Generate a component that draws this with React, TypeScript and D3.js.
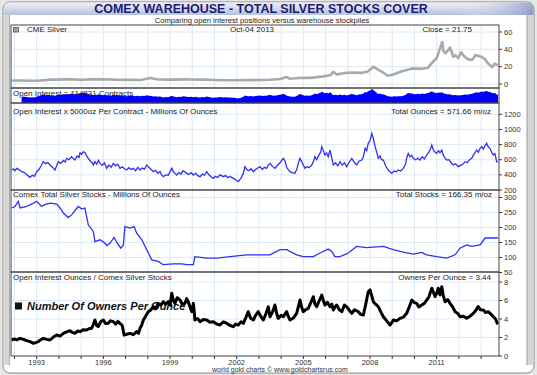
import React from "react";
import * as d3 from "d3";

// ---------- DATA (decimal years) ----------
const priceDates = [1991.87, 1992.3, 1992.7, 1993.0, 1993.4, 1993.6, 1993.9, 1994.2, 1994.6, 1995.0, 1995.4, 1995.7, 1996.1, 1996.5, 1996.9, 1997.3, 1997.7, 1997.95, 1998.1, 1998.4, 1998.8, 1999.2, 1999.6, 2000.0, 2000.5, 2001.0, 2001.5, 2001.9, 2002.4, 2002.9, 2003.5, 2003.95, 2004.25, 2004.4, 2004.9, 2005.3, 2005.9, 2006.2, 2006.35, 2006.5, 2006.8, 2007.2, 2007.6, 2007.9, 2008.15, 2008.3, 2008.6, 2008.8, 2009.05, 2009.4, 2009.9, 2010.3, 2010.6, 2010.85, 2011.0, 2011.1, 2011.25, 2011.3, 2011.4, 2011.5, 2011.6, 2011.75, 2011.85, 2011.97, 2012.1, 2012.2, 2012.35, 2012.5, 2012.6, 2012.75, 2012.85, 2013.0, 2013.1, 2013.2, 2013.3, 2013.4, 2013.5, 2013.6, 2013.68, 2013.76];
const priceValues = [4.0, 4.0, 3.8, 3.7, 4.5, 5.2, 5.0, 5.3, 5.4, 4.8, 5.4, 5.3, 5.5, 5.0, 4.8, 4.8, 4.6, 6.0, 7.0, 5.5, 5.0, 5.1, 5.3, 5.2, 5.0, 4.6, 4.4, 4.4, 4.7, 4.5, 4.9, 5.8, 8.0, 6.0, 7.2, 7.1, 8.8, 10.0, 14.0, 11.0, 12.5, 13.3, 12.8, 14.5, 20.0, 17.5, 13.0, 9.5, 11.0, 14.5, 18.0, 17.5, 18.5, 26.0, 30.0, 37.0, 48.5, 38.0, 35.5, 38.5, 42.0, 31.5, 33.0, 30.0, 36.5, 33.0, 29.5, 28.0, 28.0, 33.5, 32.5, 31.5, 30.0, 28.0, 24.0, 22.0, 19.5, 23.5, 22.5, 21.75];

const ouncesDates = [1991.87, 1991.95, 1992.02, 1992.1, 1992.2, 1992.32, 1992.45, 1992.55, 1992.7, 1992.8, 1992.9, 1993.0, 1993.1, 1993.2, 1993.3, 1993.4, 1993.5, 1993.6, 1993.7, 1993.82, 1993.9, 1993.97, 1994.08, 1994.2, 1994.28, 1994.35, 1994.45, 1994.57, 1994.65, 1994.72, 1994.82, 1994.9, 1994.95, 1995.02, 1995.1, 1995.18, 1995.25, 1995.32, 1995.42, 1995.5, 1995.55, 1995.62, 1995.7, 1995.78, 1995.85, 1995.95, 1996.05, 1996.15, 1996.25, 1996.35, 1996.45, 1996.55, 1996.65, 1996.75, 1996.85, 1996.95, 1997.05, 1997.15, 1997.25, 1997.35, 1997.45, 1997.55, 1997.65, 1997.75, 1997.85, 1997.95, 1998.05, 1998.15, 1998.25, 1998.35, 1998.45, 1998.55, 1998.62, 1998.7, 1998.8, 1998.92, 1999.0, 1999.08, 1999.15, 1999.22, 1999.3, 1999.4, 1999.5, 1999.58, 1999.67, 1999.75, 1999.85, 1999.95, 2000.05, 2000.15, 2000.25, 2000.35, 2000.45, 2000.55, 2000.65, 2000.75, 2000.85, 2000.95, 2001.05, 2001.15, 2001.25, 2001.4, 2001.5, 2001.6, 2001.7, 2001.85, 2001.95, 2002.07, 2002.2, 2002.3, 2002.37, 2002.45, 2002.55, 2002.65, 2002.75, 2002.85, 2002.95, 2003.05, 2003.15, 2003.25, 2003.35, 2003.42, 2003.5, 2003.6, 2003.72, 2003.82, 2003.95, 2004.05, 2004.1, 2004.18, 2004.25, 2004.32, 2004.4, 2004.5, 2004.62, 2004.7, 2004.78, 2004.85, 2004.95, 2005.07, 2005.15, 2005.25, 2005.38, 2005.45, 2005.52, 2005.6, 2005.7, 2005.78, 2005.83, 2005.9, 2005.97, 2006.05, 2006.12, 2006.2, 2006.28, 2006.35, 2006.45, 2006.55, 2006.65, 2006.75, 2006.85, 2006.95, 2007.05, 2007.18, 2007.28, 2007.4, 2007.5, 2007.63, 2007.7, 2007.78, 2007.85, 2007.92, 2008.0, 2008.08, 2008.15, 2008.23, 2008.3, 2008.37, 2008.45, 2008.52, 2008.6, 2008.7, 2008.82, 2008.9, 2008.98, 2009.08, 2009.18, 2009.27, 2009.38, 2009.5, 2009.6, 2009.65, 2009.72, 2009.8, 2009.88, 2009.95, 2010.05, 2010.15, 2010.25, 2010.35, 2010.45, 2010.55, 2010.65, 2010.72, 2010.78, 2010.85, 2010.92, 2011.0, 2011.08, 2011.15, 2011.23, 2011.3, 2011.38, 2011.45, 2011.55, 2011.65, 2011.75, 2011.85, 2011.97, 2012.07, 2012.18, 2012.28, 2012.38, 2012.48, 2012.58, 2012.65, 2012.72, 2012.8, 2012.88, 2012.95, 2013.03, 2013.1, 2013.18, 2013.25, 2013.32, 2013.4, 2013.47, 2013.55, 2013.62, 2013.7, 2013.76];
const ouncesValues = [464, 478, 455, 486, 470, 442, 430, 402, 368, 395, 380, 442, 470, 520, 574, 548, 562, 530, 505, 464, 520, 574, 552, 590, 570, 618, 600, 640, 615, 596, 650, 630, 692, 670, 706, 690, 650, 618, 580, 560, 530, 575, 540, 590, 552, 525, 560, 486, 530, 500, 552, 520, 540, 486, 505, 480, 464, 495, 470, 486, 455, 500, 464, 490, 475, 530, 500, 470, 442, 460, 420, 445, 400, 376, 400, 395, 440, 486, 440, 420, 398, 430, 410, 455, 442, 420, 405, 430, 398, 420, 390, 376, 410, 395, 442, 400, 375, 354, 380, 365, 400, 376, 390, 365, 380, 354, 335, 310, 360, 420, 508, 470, 455, 480, 442, 470, 490, 508, 470, 500, 486, 530, 552, 515, 486, 520, 560, 600, 618, 580, 500, 470, 442, 430, 420, 470, 560, 618, 560, 486, 510, 495, 530, 575, 640, 600, 660, 700, 772, 720, 662, 690, 640, 728, 620, 530, 560, 520, 574, 530, 560, 508, 560, 618, 570, 530, 580, 596, 640, 750, 720, 816, 850, 948, 880, 772, 700, 618, 650, 600, 596, 520, 464, 440, 420, 450, 440, 464, 450, 486, 540, 620, 684, 640, 660, 618, 600, 620, 596, 640, 610, 662, 700, 740, 794, 730, 700, 684, 720, 690, 728, 660, 620, 596, 600, 560, 530, 545, 508, 525, 540, 574, 560, 600, 618, 660, 690, 728, 700, 750, 772, 740, 790, 816, 770, 750, 700, 662, 680, 574, 572];

const contractsStart = 1992.3; // open-interest contracts panel begins slightly later

const stocksDates = [1991.87, 1992.02, 1992.17, 1992.25, 1992.55, 1992.85, 1993.0, 1993.22, 1993.37, 1993.6, 1993.9, 1994.05, 1994.2, 1994.42, 1994.57, 1994.87, 1995.02, 1995.17, 1995.32, 1995.55, 1995.62, 1995.85, 1996.07, 1996.15, 1996.3, 1996.48, 1996.6, 1996.78, 1996.9, 1996.97, 1997.2, 1997.38, 1997.5, 1997.73, 1997.95, 1998.18, 1998.47, 1998.7, 1999.15, 1999.53, 1999.75, 2000.05, 2000.12, 2000.65, 2001.1, 2001.7, 2002.45, 2003.35, 2003.5, 2003.95, 2004.25, 2004.7, 2005.0, 2005.45, 2005.75, 2006.12, 2006.28, 2006.42, 2006.65, 2007.02, 2007.4, 2007.85, 2008.6, 2009.05, 2009.5, 2009.95, 2010.33, 2010.55, 2011.0, 2011.45, 2011.83, 2012.05, 2012.35, 2012.58, 2012.95, 2013.18, 2013.7, 2013.76];
const stocksValues = [265, 270, 287, 265, 270, 281, 287, 270, 276, 281, 278, 265, 248, 233, 242, 270, 262, 265, 209, 187, 153, 159, 148, 140, 148, 167, 151, 131, 142, 203, 198, 203, 181, 159, 126, 92, 87, 76, 79, 79, 76, 76, 103, 98, 98, 103, 109, 109, 109, 126, 126, 109, 103, 103, 115, 128, 120, 103, 103, 115, 137, 133, 137, 126, 118, 111, 117, 109, 103, 98, 109, 131, 142, 137, 142, 165, 165, 166];

const ownersDates = [1991.87, 1992.0, 1992.1, 1992.25, 1992.4, 1992.55, 1992.7, 1992.85, 1992.95, 1993.07, 1993.18, 1993.3, 1993.45, 1993.6, 1993.75, 1993.9, 1994.05, 1994.2, 1994.35, 1994.5, 1994.6, 1994.72, 1994.85, 1994.95, 1995.1, 1995.25, 1995.35, 1995.47, 1995.55, 1995.62, 1995.7, 1995.77, 1995.88, 1996.0, 1996.1, 1996.22, 1996.32, 1996.45, 1996.55, 1996.65, 1996.75, 1996.85, 1996.93, 1997.05, 1997.2, 1997.35, 1997.5, 1997.58, 1997.65, 1997.72, 1997.8, 1997.9, 1998.02, 1998.12, 1998.25, 1998.35, 1998.47, 1998.58, 1998.7, 1998.8, 1998.92, 1999.0, 1999.08, 1999.15, 1999.22, 1999.32, 1999.45, 1999.55, 1999.67, 1999.75, 1999.82, 1999.9, 1999.98, 2000.05, 2000.1, 2000.12, 2000.25, 2000.35, 2000.5, 2000.65, 2000.8, 2000.95, 2001.1, 2001.25, 2001.4, 2001.55, 2001.7, 2001.85, 2001.95, 2002.07, 2002.2, 2002.3, 2002.42, 2002.52, 2002.62, 2002.75, 2002.85, 2002.97, 2003.08, 2003.2, 2003.32, 2003.42, 2003.5, 2003.62, 2003.72, 2003.8, 2003.87, 2004.0, 2004.1, 2004.25, 2004.32, 2004.4, 2004.55, 2004.7, 2004.78, 2004.85, 2004.92, 2005.0, 2005.1, 2005.22, 2005.32, 2005.45, 2005.52, 2005.6, 2005.72, 2005.83, 2005.9, 2005.97, 2006.08, 2006.2, 2006.28, 2006.35, 2006.42, 2006.5, 2006.62, 2006.73, 2006.85, 2006.95, 2007.05, 2007.18, 2007.3, 2007.47, 2007.58, 2007.7, 2007.8, 2007.92, 2008.0, 2008.08, 2008.15, 2008.25, 2008.37, 2008.48, 2008.6, 2008.75, 2008.9, 2008.98, 2009.05, 2009.2, 2009.35, 2009.5, 2009.65, 2009.75, 2009.88, 2009.98, 2010.1, 2010.2, 2010.33, 2010.45, 2010.55, 2010.65, 2010.78, 2010.85, 2010.93, 2011.0, 2011.07, 2011.15, 2011.23, 2011.3, 2011.38, 2011.5, 2011.6, 2011.72, 2011.83, 2011.95, 2012.05, 2012.2, 2012.35, 2012.5, 2012.65, 2012.75, 2012.87, 2012.97, 2013.1, 2013.2, 2013.32, 2013.45, 2013.55, 2013.65, 2013.73, 2013.76];
const ownersValues = [1.73, 1.85, 1.75, 1.91, 1.8, 1.66, 1.55, 1.37, 1.45, 1.55, 1.75, 1.91, 1.8, 1.73, 2.05, 2.27, 2.15, 2.45, 2.6, 2.74, 2.55, 2.45, 2.7, 2.63, 2.85, 2.81, 2.95, 3.0, 3.4, 3.89, 3.3, 3.17, 3.7, 3.89, 3.5, 3.53, 3.8, 3.71, 3.45, 3.75, 3.53, 3.3, 2.27, 2.35, 2.45, 2.3, 2.63, 2.45, 3.0, 3.3, 3.89, 4.3, 4.79, 4.95, 5.33, 5.1, 5.69, 5.5, 5.87, 5.6, 5.87, 5.5, 6.78, 6.0, 5.69, 6.3, 6.05, 5.6, 5.69, 6.2, 5.87, 5.3, 4.79, 5.69, 4.5, 3.89, 4.05, 3.71, 3.95, 3.89, 3.65, 3.71, 3.45, 3.35, 3.7, 3.53, 3.3, 3.17, 3.45, 3.35, 3.7, 3.53, 4.2, 4.79, 4.1, 3.89, 4.4, 4.79, 4.3, 3.89, 4.6, 5.33, 4.25, 4.8, 5.51, 4.6, 4.07, 4.4, 4.25, 4.79, 4.3, 3.89, 4.1, 4.61, 5.4, 6.05, 5.3, 4.79, 5.0, 5.15, 5.7, 6.41, 5.6, 5.33, 6.0, 6.59, 6.0, 5.51, 5.8, 5.33, 5.6, 4.97, 5.3, 5.51, 5.0, 4.79, 5.5, 5.33, 5.0, 4.61, 5.0, 4.79, 4.5, 4.43, 5.5, 6.95, 7.14, 6.5, 5.87, 5.6, 5.33, 4.8, 4.25, 3.8, 3.35, 3.6, 3.89, 3.8, 4.07, 4.2, 4.61, 5.2, 6.05, 5.8, 5.69, 5.3, 5.51, 5.7, 6.05, 6.4, 7.32, 6.9, 6.41, 6.8, 7.32, 6.6, 7.49, 6.5, 5.87, 6.1, 5.69, 5.3, 4.79, 4.6, 4.25, 4.3, 4.07, 4.3, 4.61, 4.9, 5.33, 5.0, 4.97, 4.7, 4.79, 4.5, 4.25, 4.0, 3.53, 3.44];

const yearLabels = [1993, 1996, 1999, 2002, 2005, 2008, 2011];
const priceTicks = [0, 20, 40, 60];
const ouncesTicks = [200, 400, 600, 800, 1000, 1200];
const stocksTicks = [50, 100, 150, 200, 250, 300];
const ownersTicks = [0, 2, 4, 6, 8];

// ---------- LAYOUT ----------
const W = 537, H = 375;
const L = 11, R = 499;
const P1: [number, number] = [25, 88];
const P2: [number, number] = [88, 103];
const P3: [number, number] = [103, 190];
const P4: [number, number] = [190, 272];
const P5: [number, number] = [272, 356];
const FONT = "'Liberation Sans', Arial, sans-serif";
const GRID = "#dce9f6";

export default function App() {
  const x = d3.scaleLinear().domain([1991.843, 2013.805]).range([L, R]);
  const y1 = d3.scaleLinear().domain([0, 60]).range([84, 32]);
  const y2 = d3.scaleLinear().domain([0, 950]).range([P2[1], 89]);
  const y3 = d3.scaleLinear().domain([200, 1200]).range([190, 114.3]);
  const y4 = d3.scaleLinear().domain([50, 300]).range([272.5, 197.5]);
  const y5 = d3.scaleLinear().domain([0, 8]).range([356, 282]);

  const mk = (ds: number[], vs: number[]) => ds.map((d, i) => [d, vs[i]] as [number, number]);
  const lineFor = (ys: d3.ScaleLinear<number, number>) =>
    d3.line<[number, number]>().x(d => x(d[0])).y(d => ys(d[1]));

  const price = mk(priceDates, priceValues);
  const ounces = mk(ouncesDates, ouncesValues);
  const contracts = ounces.filter(d => d[0] >= contractsStart);
  const stocks = mk(stocksDates, stocksValues);
  const owners = mk(ownersDates, ownersValues);

  const area2 = d3.area<[number, number]>().x(d => x(d[0])).y0(P2[1]).y1(d => y2(d[1]));

  const years = d3.range(1992, 2014);
  const panels: [number, number][] = [P1, P2, P3, P4, P5];

  const vGrid = (p: [number, number], key: string) =>
    years.map(yr => (
      <line key={key + yr} x1={x(yr)} x2={x(yr)} y1={p[0]} y2={p[1]} stroke={GRID} strokeWidth={1} />
    ));
  const hGrid = (ticks: number[], ys: d3.ScaleLinear<number, number>, p: [number, number], key: string) =>
    ticks.filter(t => ys(t) > p[0] + 1 && ys(t) < p[1] - 1).map(t => (
      <line key={key + t} x1={L} x2={R} y1={ys(t)} y2={ys(t)} stroke={GRID} strokeWidth={1} />
    ));
  const rAxis = (ticks: number[], ys: d3.ScaleLinear<number, number>, key: string) =>
    ticks.map(t => (
      <g key={key + t}>
        <line x1={R} x2={R + 3} y1={ys(t)} y2={ys(t)} stroke="#333" strokeWidth={1} />
        <text x={R + 5} y={ys(t)} dy="0.35em" fontSize={7.5} fill="#333" fontFamily={FONT}>{t}</text>
      </g>
    ));

  const lbl = { fontSize: 8, fill: "#222", fontFamily: FONT } as const;

  return (
    <svg width={W} height={H} style={{ position: "absolute", left: 0, top: 0 }}>
      <defs>
        <linearGradient id="titleGrad" x1="0" y1="0" x2="0" y2="1">
          <stop offset="0" stopColor="#eef0f8" />
          <stop offset="1" stopColor="#b8c0dc" />
        </linearGradient>
        <linearGradient id="titleGradR" x1="0" y1="0" x2="1" y2="0">
          <stop offset="0.85" stopColor="#ffffff" stopOpacity={0} />
          <stop offset="1" stopColor="#7d88c0" stopOpacity={0.7} />
        </linearGradient>
        {panels.map((p, i) => (
          <clipPath id={"clip" + i} key={"c" + i}>
            <rect x={L} y={p[0]} width={R - L} height={p[1] - p[0]} />
          </clipPath>
        ))}
      </defs>

      {/* frame */}
      <rect x={0} y={0} width={W} height={H} fill="#e6e6e6" />
      <rect x={3} y={2} width={W - 6} height={H - 4} rx={7} fill="#ffffff" stroke="#8a8a8a" strokeWidth={1} />
      <rect x={3.5} y={15} width={6} height={350} fill="#d6d6d6" />
      <rect x={527} y={15} width={6.5} height={350} fill="#d6d6d6" />
      <line x1={527} x2={527} y1={15} y2={365} stroke="#9a9a9a" />
      <line x1={9.5} x2={9.5} y1={15} y2={365} stroke="#b0b0b0" />
      <path d={`M3.5,15 V9 Q3.5,2.5 10,2.5 H${W - 10} Q${W - 3.5},2.5 ${W - 3.5},9 V15 Z`} fill="url(#titleGrad)" />
      <path d={`M3.5,15 V9 Q3.5,2.5 10,2.5 H${W - 10} Q${W - 3.5},2.5 ${W - 3.5},9 V15 Z`} fill="url(#titleGradR)" />
      <text x={261} y={13} textAnchor="middle" fontSize={12.5} fontWeight="bold" fill="#1c1c70" fontFamily={FONT}>
        COMEX WAREHOUSE - TOTAL SILVER STOCKS COVER
      </text>
      <text x={262} y={22.5} textAnchor="middle" fontSize={7.6} fill="#222" fontFamily={FONT}>
        Comparing open interest positions versus warehouse stockpiles
      </text>

      {/* panel backgrounds & grids */}
      {panels.map((p, i) => (
        <rect key={"bg" + i} x={L} y={p[0]} width={R - L} height={p[1] - p[0]} fill="#ffffff" />
      ))}
      {vGrid(P1, "g1")}
      {vGrid(P3, "g3")}
      {vGrid(P4, "g4")}
      {vGrid(P5, "g5")}
      {hGrid(priceTicks, y1, P1, "h1")}
      {hGrid(ouncesTicks, y3, P3, "h3")}
      {hGrid(stocksTicks, y4, P4, "h4")}
      {hGrid(ownersTicks, y5, P5, "h5")}

      {/* panel 1: price */}
      <path d={lineFor(y1)(price) || ""} fill="none" stroke="#a9a9a9" strokeWidth={2.6} strokeLinejoin="round" clipPath="url(#clip0)" />
      <rect x={13.5} y={27.5} width={5} height={4.5} fill="#a0a0a0" stroke="#555" strokeWidth={0.8} />
      <text x={27} y={31.5} {...lbl}>CME Silver</text>
      <text x={230} y={31.5} {...lbl}>Oct-04  2013</text>
      <text x={472} y={31.5} textAnchor="end" {...lbl}>Close = 21.75</text>

      {/* panel 2: contracts */}
      <path d={area2(contracts) || ""} fill="#0000ff" clipPath="url(#clip1)" />
      <text x={13} y={95.5} {...lbl}>Open Interest = 114331 Contracts</text>

      {/* panel 3: ounces */}
      <path d={lineFor(y3)(ounces) || ""} fill="none" stroke="#2f2ff5" strokeWidth={1.3} clipPath="url(#clip2)" />
      <text x={13} y={114} {...lbl}>Open Interest x 5000oz Per Contract - Millions Of Ounces</text>
      <text x={491} y={114} textAnchor="end" {...lbl}>Total Ounces = 571.66 m/oz</text>

      {/* panel 4: stocks */}
      <path d={lineFor(y4)(stocks) || ""} fill="none" stroke="#2f2ff5" strokeWidth={1.3} clipPath="url(#clip3)" />
      <text x={13} y={197} {...lbl}>Comex Total Silver Stocks - Millions Of Ounces</text>
      <text x={492} y={197} textAnchor="end" {...lbl}>Total Stocks = 166.35 m/oz</text>

      {/* panel 5: owners */}
      <text x={13} y={279.5} {...lbl}>Open Interest Ounces / Comex Silver Stocks</text>
      <text x={491} y={279.5} textAnchor="end" {...lbl}>Owners Per Ounce = 3.44</text>
      <rect x={15} y={302.5} width={7} height={7} fill="#111" />
      <text x={27} y={310} fontSize={11} fontWeight="bold" fontStyle="italic" fill="#111" fontFamily={FONT}>
        Number Of Owners Per Ounce
      </text>
      <path d={lineFor(y5)(owners) || ""} fill="none" stroke="#000" strokeWidth={3} strokeLinejoin="round" clipPath="url(#clip4)" />

      {/* borders */}
      {panels.map((p, i) => (
        <rect key={"b" + i} x={L} y={p[0]} width={R - L} height={p[1] - p[0]} fill="none" stroke="#444" strokeWidth={1} />
      ))}

      {/* right axes */}
      {rAxis(priceTicks, y1, "a1")}
      {rAxis(ouncesTicks, y3, "a3")}
      {rAxis(stocksTicks, y4, "a4")}
      {rAxis(ownersTicks, y5, "a5")}

      {/* x axis */}
      {years.map(yr => (
        <line key={"xt" + yr} x1={x(yr)} x2={x(yr)} y1={P5[1]} y2={P5[1] + 3} stroke="#333" strokeWidth={1} />
      ))}
      {yearLabels.map(yr => (
        <text key={"xl" + yr} x={x(yr)} y={364.5} textAnchor="middle" fontSize={7.5} fill="#333" fontFamily={FONT}>{yr}</text>
      ))}
      <text x={280} y={371.5} textAnchor="middle" fontSize={7} fill="#333" fontFamily={FONT}>
        world gold charts © www.goldchartsrus.com
      </text>
    </svg>
  );
}
